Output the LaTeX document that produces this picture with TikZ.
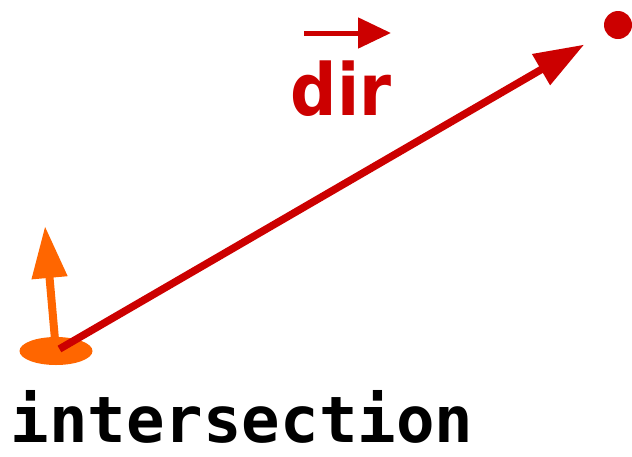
\documentclass[tikz,border=0pt]{standalone}
\usepackage{fontspec}
\usetikzlibrary{arrows.meta,shapes.geometric}
\newfontfamily\dirfont{DejaVu Sans Condensed}
\newfontfamily\codefont{DejaVu Sans Mono}
\definecolor{ray}{HTML}{CC0000}
\definecolor{hit}{HTML}{FF6600}

\begin{document}
\begin{tikzpicture}[x=1pt, y=-1pt, every node/.style={inner sep=0pt, outer sep=0pt}, raytip/.style={-{Triangle[length=50pt, width=34pt]}, line width=7.5pt, ray}, normaltip/.style={-{Triangle[length=52pt, width=34pt]}, line width=8pt, hit}, vectip/.style={-{Triangle[length=33pt, width=30pt]}, line width=5pt, ray}]
\useasboundingbox (0,0) rectangle (632,456);
\node (target) [circle, fill=ray, minimum size=28pt] at (618,25) {};
\node (hitpt) [ellipse, fill=hit, minimum width=73pt, minimum height=28pt] at (56,351) {};
\coordinate (nrm) at (45,226);
\draw[normaltip, shorten <=6pt] (hitpt.center) -- (nrm);
\draw[raytip, shorten <=4pt, shorten >=39pt] (hitpt.center) -- (target.center);
\node (dir) [anchor=base, text=ray, font=\dirfont\bfseries\fontsize{72}{72}\selectfont] at (341,115) {dir};
\coordinate (vecL) at (304,33);
\coordinate (vecR) at (391,33);
\draw[vectip] (vecL) -- (vecR);
\node (label) [anchor=base, font=\codefont\bfseries\fontsize{64}{64}\selectfont] at (242,442) {intersection};
\end{tikzpicture}
\end{document}
